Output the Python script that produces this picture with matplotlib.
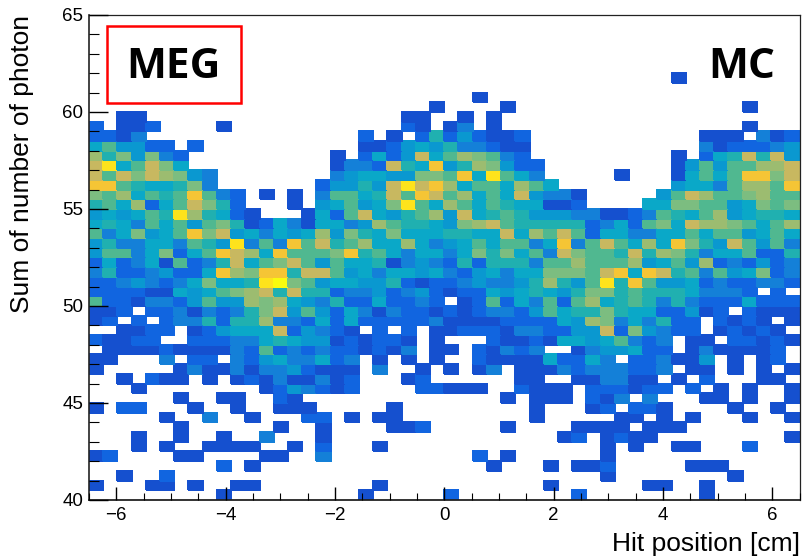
#!/usr/bin/env python3
"""Hit position vs summed photons, 2D histogram (MEG, MC)."""

import matplotlib
matplotlib.use('Agg')
import matplotlib.pyplot as plt
import numpy as np
from matplotlib.colors import BoundaryNorm, ListedColormap
from matplotlib.patches import Rectangle
from matplotlib.ticker import MultipleLocator

plt.rcParams['font.family'] = ['Liberation Sans', 'DejaVu Sans']

x_edges = np.linspace(-6.5, 6.5, 51)
y_edges = np.linspace(40, 65, 51)

# bin contents, one hex digit per bin, rows from y=62 down to y=40
rows_top_down = [
    '0000000000' '0000000000' '0000000000' '0000000000' '0100000000',
    '0000000000' '0000000000' '0000000000' '0000000000' '0000000000',
    '0000000000' '0000000000' '0000000100' '0000000000' '0000000000',
    '0000000000' '0000000000' '0000100001' '0000000000' '0000001000',
    '0011000000' '0000000000' '0011001010' '0000000000' '0000000000',
    '2011200001' '0000000000' '0021013010' '0000000000' '0000001000',
    '2213000000' '0000000002' '0102624211' '2000000000' '0001110312',
    '5744220200' '0000000001' '1245463321' '1000000000' '0003122234',
    '9684832000' '0000000102' '524A579873' '2000000000' '010256A6A4',
    'AC57A85000' '0000000133' '2A65B46984' '2200000000' '014747799A',
    'A7A8A98430' '0000000345' '544887B5C7' '5300000100' '015757BB8A',
    'BB76556830' '0000002446' '4ACAB95775' '9750000000' '045537997B',
    '8795767B73' '2010103775' '6A7BA79575' 'A433100000' '47A9778977',
    '6759257A86' '2000104574' '58C7597576' '5511200005' '5887745878',
    '454576C965' '210001527A' '546794A567' '6444331123' '7657945665',
    '5653757478' '6125315534' '97665489A7' '6666623527' '85A9987579',
    '7358457B8A' '4535459486' '585556655A' '597A725533' '5575774575',
    '4633553764' 'C373B7A679' '5595345757' '735B37A759' '5B864A7473',
    '477358257B' 'A95B7778B6' '7535535868' '573A8776A6' '9863557226',
    '2523517236' 'A578A74755' '6134326266' '6377977794' '5749232423',
    '362234225B' '98BB6AA745' '3554532453' '558887AB5B' 'A673745823',
    '2234323585' '56CD874554' '4621223433' '469647C6B7' '4452322332',
    '2222115457' '89A6A66233' '4234212254' '5654688676' '6653332020',
    '7221332474' '4989543622' '5223201272' '5372795676' '3632225222',
    '1120223132' '368A474253' '1322121233' '2475668655' '2241202111',
    '1202023362' '6693325252' '2222311112' '2225498353' '6220212101',
    '0011220124' '555A243210' '2020112221' '332244A284' '3220121210',
    '2112200222' '3356544121' '2210100021' '1215545732' '3011022121',
    '0111121111' '3272323221' '2130110213' '2300134452' '2013111120',
    '1100030220' '3245335230' '1010100211' '1152253022' '3114010120',
    '1000001311' '3133421110' '3001010130' '1113233322' '3011010101',
    '0010211010' '1213113120' '0012000000' '1100113311' '0102000110',
    '0001000000' '0012432120' '0002211100' '2111022212' '2020101001',
    '0000001001' '1002100000' '0000000001' '0111021303' '0001101001',
    '1022000100' '1001110000' '0100000000' '0100012022' '1000010010',
    '0000010030' '0100022010' '1100000000' '0100000110' '1010001001',
    '0000001000' '0001001000' '0112000001' '0000111101' '1100000000',
    '0001001001' '0030001000' '0000000000' '0001201211' '0000000001',
    '0001010011' '1100102000' '1000000000' '0000001010' '0110002000',
    '1200001100' '0011003000' '0000000201' '0000001000' '0000000000',
    '0000000002' '0100000000' '0000000010' '0010112000' '0011100000',
    '0010020000' '0000000000' '0000000000' '0000001000' '0000010000',
    '1000110100' '1100000000' '1000000000' '0010000001' '1001000000',
    '0000000001' '0000000001' '0000020000' '0000200000' '0001000000',
]

# kBird-like palette, one colour per count level
bird = ['#1550cf', '#1165e0', '#1480d8', '#0a98d0', '#0aa8c8', '#20b0b0',
        '#50b890', '#7cbd80', '#9cbc70', '#c8b860', '#f5c535', '#fee31c',
        '#f9fb0e']

counts = np.zeros((50, 50))
for i, row in enumerate(rows_top_down):
    r = len(rows_top_down) - 1 - i
    counts[r] = [int(ch, 16) for ch in row]

fig = plt.figure(figsize=(8.02, 5.59), dpi=100)
ax = fig.add_axes([89 / 802, 1 - 500 / 559, 710.5 / 802, 485 / 559])

cmap = ListedColormap(bird)
norm = BoundaryNorm(np.arange(0.5, 14.5), cmap.N)
ax.pcolormesh(x_edges, y_edges, np.ma.masked_equal(counts, 0), cmap=cmap, norm=norm,
              shading='flat', edgecolors='face', linewidth=0.1)

ax.set_xlim(-6.5, 6.5)
ax.set_ylim(40, 65)
ax.xaxis.set_major_locator(MultipleLocator(2))
ax.xaxis.set_minor_locator(MultipleLocator(0.5))
ax.yaxis.set_major_locator(MultipleLocator(5))
ax.yaxis.set_minor_locator(MultipleLocator(1))
ax.tick_params(axis='x', which='major', direction='in', length=9.5, width=1.0, labelsize=13.5, pad=5)
ax.tick_params(axis='x', which='minor', direction='in', length=4.7, width=0.8)
ax.tick_params(axis='y', which='major', direction='in', length=14, width=1.0, labelsize=13.5, pad=4)
ax.tick_params(axis='y', which='minor', direction='in', length=7, width=0.8)
for s in ax.spines.values():
    s.set_linewidth(0.9)
    s.set_color('#222222')
ax.spines['left'].set_linewidth(1.2)
ax.spines['bottom'].set_linewidth(1.3)
ax.set_axisbelow(False)

fig.text(800 / 802, 1 - 544 / 559, 'Hit position [cm]', ha='right', va='center', fontsize=19)
fig.text(22 / 802, 1 - 15 / 559, 'Sum of number of photon', ha='center', va='top', rotation=90, fontsize=19)

ax.add_patch(Rectangle((107 / 802, 1 - 103 / 559), 134 / 802, 77 / 559, transform=fig.transFigure,
                       fill=False, edgecolor='#ff0000', linewidth=1.8, zorder=5))
fig.text(173 / 802, 1 - 67 / 559, 'MEG', ha='center', va='center', fontsize=30.5,
         fontweight='bold', family=['Open Sans', 'DejaVu Sans'])
fig.text(742 / 802, 1 - 67 / 559, 'MC', ha='center', va='center', fontsize=30.5,
         fontweight='bold', family=['Open Sans', 'DejaVu Sans'])

fig.savefig('out.png', dpi=100)
